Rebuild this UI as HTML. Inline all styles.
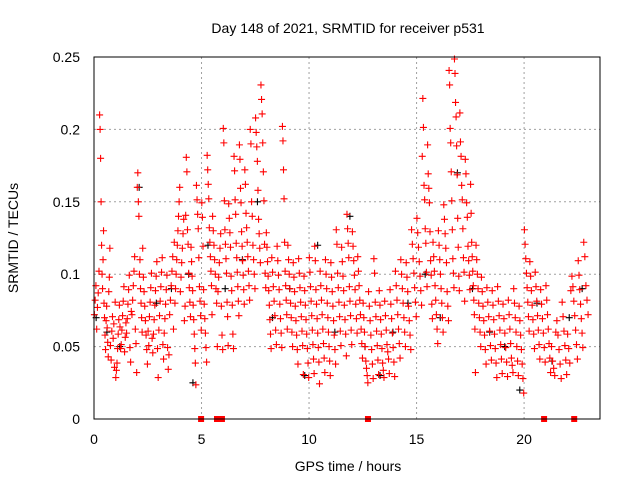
<!DOCTYPE html>
<html><head><meta charset="utf-8"><style>
body{margin:0;background:#fff;}
svg{display:block;font-family:"Liberation Sans",sans-serif;}
</style></head><body>
<svg id="chart" width="640" height="480" viewBox="0 0 640 480">
<rect width="640" height="480" fill="#fff"/>
<text x="348" y="33" text-anchor="middle" font-size="14">Day 148 of 2021, SRMTID for receiver p531</text>
<text x="348" y="471" text-anchor="middle" font-size="14">GPS time / hours</text>
<text transform="translate(18,238) rotate(-90)" text-anchor="middle" font-size="14">SRMTID / TECUs</text>
<g id="grid"></g>
<g id="ticks"></g>
<g id="black"></g>
<g id="red"></g>
<g id="marks"></g>
<rect x="94" y="57" width="506" height="362" fill="none" stroke="#000" stroke-width="1"/>
</svg>
<script>
const xTicks=[0,5,10,15,20];
const yTicks=[0,0.05,0.1,0.15,0.2,0.25];
const yTickLabels=["0","0.05","0.1","0.15","0.2","0.25"];
const bucketStarts=[0,0.25,0.5,0.75,1,1.25,1.5,1.75,2,2.25,2.5,2.75,3,3.25,3.5,3.75,4,4.25,4.5,4.75,5,5.25,5.5,5.75,6,6.25,6.5,6.75,7,7.25,7.5,7.75,8,8.25,8.5,8.75,9,9.25,9.5,9.75,10,10.25,10.5,10.75,11,11.25,11.5,11.75,12,12.25,12.5,12.75,13,13.25,13.5,13.75,14,14.25,14.5,14.75,15,15.25,15.5,15.75,16,16.25,16.5,16.75,17,17.25,17.5,17.75,18,18.25,18.5,18.75,19,19.25,19.5,19.75,20,20.25,20.5,20.75,21,21.25,21.5,21.75,22,22.25,22.5,22.75];
const bucketValues=[
"7,8,9,6,7.5,8.5,10","21,20,18,15,12,10,9,11,13,8,7","6,5,7,8,6.5,5.5,4.5,9,10,12","5,4,6,7,5.5,6.5,3.5,8","3,3.5,4,5,6,7,8,6.5,5","5,6,7,8,9,4.5,5.5,6.5","6,7,8,9,10,5,4,7.5","7,8,9,10,11,6,5,3","16,17,15,14,10,11,9,8,7,6","12,10,9,8,7,6,5,4","6,5,7,8,9,10,5.5,4.5","6,7,8,9,10,11,5,3","6,7,8,9,10,11,5,4","6,7,8,9,10,5,3.5,4.5","7,8,9,10,11,6,12","8,9,10,11,12,13,14,15,16","9,10,11,12,13,14,7,8","14,18,17,13,12,10,9,8,7","12,11,10,9,8,7,6,5,4,2.5","16,15,14,13,11,9,8,7,6","15,14,12,9,8,7,6,5,4","18,17,16,15,13,12,11,10,9,7","14,13,12,11,10,9,8,5","9,10,11,12,13,8,6,5","20,19,15,13,12,11,10,8,7,5","15,14,13,12,10,9,8,6,5","18,17,15,14,12,11,10,9,8,7","19,18,16,15,13,12,11,10,9,8","17,16,14,13,12,11,10,9,8","20,19,15,14,12,11,10,9","21,20,19,18,16,14,13,12,11","23,22,21,19,17,15,12,10,9","13,12,11,10,9,8,7,6,5","11,10,9,8,7,6,5","12,11,10,9,8,7,6,5","20,19,17,15,12,10,9,8,7,6","12,11,10,9,8,7,6,5","11,10,9,8,7,6,5,4","11,10,9,8,7,6,5,3","10,9,8,7,6,5,4,3","11,10,9,8,7,6,5,4,3","12,11,9,8,7,6,5,4,2.5","10,9,8,7,6,5,4,3","11,10,9,8,7,6,5,4,3","11,10,9,8,7,6,5,4","13,12,10,9,8,7,6,5","12,11,10,9,8,7,6,4.5","14,13,12,11,9,8,7,6,5","13,12,11,10,9,8,7,6","11,10,9,8,7,6,5,4","8,7,6,5,4,3.5,3,2.5","9,8,7,6,5,4,3","11,10,8,7,6,5,4,3","9,8,7,6,5,4,3.5,3","8,7,6,5,4.5,4,3","9,8,7,6,5,4,3","10,9,8,7,6,5,4","11,10,9,8,7,6,5","11,10,9,8,7,6,5","13,12,11,10,9,8,7","14,13,12,11,10,9,8","18,22,20,16,15,13,12,10,9","19,17,16,15,13,11,10,8,7","12,11,10,9,8,7,6,5","13,12,11,10,9,8,7,6","15,14,13,12,11,9,8,7","24,23,20,19,17,15,13,11,10,9","25,24,22,21,19,17,14,12,10,9","21,19,18,16,15,13,11,10,8","18,17,15,14,12,11,10,9","16,14,12,11,10,9,8,7,6,3","12,11,10,9,8,7,6,5","10,9,8,7,6,5,4","9,8,7,6,5,4","9,8,7,6,5,4,3","9,8,7,6,5,4,3","8,7,6,5,4,3","8,7,6,5,4,3.5,3","9,8,7,6,5,4,3","8,7,6,5,4,3,2","13,12,11,10,9,8,7,6","11,10,9,8,7,6,5","10,9,8,7,6,5,4","9,8,7,6,5,4","9,8,7,6,5,4,3","5,4,3.5,3,6","7,6,5,4,3","8,7,6,5,4,3","6,5,4,9,10","9,8,7,6,5,4","11,10,9,8,7,6,5","12,11,9,8,7"];
const blackTimes=[0.1,0.6,1.2,2.1,2.9,3.6,4.4,4.6,5.3,6.1,6.9,7.6,8.3,9.1,9.8,10.4,11.2,11.9,12.6,13.3,13.9,14.6,15.4,16.1,16.9,17.6,18.4,19.1,19.8,20.6,21.3,22.1,22.7];
const blackValues=[0.07,0.06,0.05,0.16,0.08,0.09,0.10,0.025,0.12,0.09,0.11,0.15,0.07,0.09,0.03,0.12,0.06,0.14,0.05,0.03,0.06,0.08,0.10,0.07,0.17,0.09,0.06,0.05,0.02,0.08,0.04,0.07,0.09];
const gapTimes=[4.98,5.72,5.95,12.74,20.93,22.33];

const X0=94,X1=600,Y0=419,Y1=57,XMAX=23.53,YMAX=0.25;
const xs=t=>X0+(X1-X0)*t/XMAX;
const ys=v=>Y0-(Y0-Y1)*v/YMAX;
const NS="http://www.w3.org/2000/svg";
function mk(tag,attrs,parent){const e=document.createElementNS(NS,tag);for(const k in attrs)e.setAttribute(k,attrs[k]);parent.appendChild(e);return e;}
const grid=document.getElementById('grid'),ticks=document.getElementById('ticks');
xTicks.forEach(t=>{
  const x=xs(t);
  if(t>0){const l=mk('line',{x1:x,x2:x,y1:Y1,y2:Y0,stroke:'#a0a0a0','stroke-dasharray':'2,3'},grid);
  
  }
  const tx=mk('text',{x:x,y:Y0+25,'text-anchor':'middle','font-size':'14'},ticks);tx.textContent=t;
  
  
});
yTicks.forEach((v,i)=>{
  const y=ys(v);
  if(v>0&&v<YMAX){const l=mk('line',{x1:X0,x2:X1,y1:y,y2:y,stroke:'#a0a0a0','stroke-dasharray':'2,3'},grid);
  
  }
  const tx=mk('text',{x:X0-14,y:y+5,'text-anchor':'end','font-size':'14'},ticks);tx.textContent=yTickLabels[i];
  
  
});
function cross(t,v,color,parent,dy){
  const x=xs(t),y=ys(v)+(dy||0);
  return mk('path',{d:`M${x-3.5} ${y}H${x+3.5}M${x} ${y-3.5}V${y+3.5}`,stroke:color,'stroke-width':'1.1',fill:'none'},parent);
}
const blk=document.getElementById('black');
blackTimes.forEach((t,i)=>{
  const p=cross(t,blackValues[i],'#000',blk,0);
  
  
});
const red=document.getElementById('red');
bucketStarts.forEach((t0,b)=>{
  const vals=bucketValues[b].split(',').map(Number);
  vals.forEach((v,j)=>{
    const t=t0+0.25*(j+0.5)/vals.length;
    const dy=((j*7+b*3)%7)-3;
    const p=cross(t,v/100,'#f00',red,dy);
    
    
  });
});
const marks=document.getElementById('marks');
gapTimes.forEach(t=>{
  const r=mk('rect',{x:xs(t)-3,y:Y0-3,width:6,height:6,fill:'#f00'},marks);
  
  
});
</script>
</body></html>
